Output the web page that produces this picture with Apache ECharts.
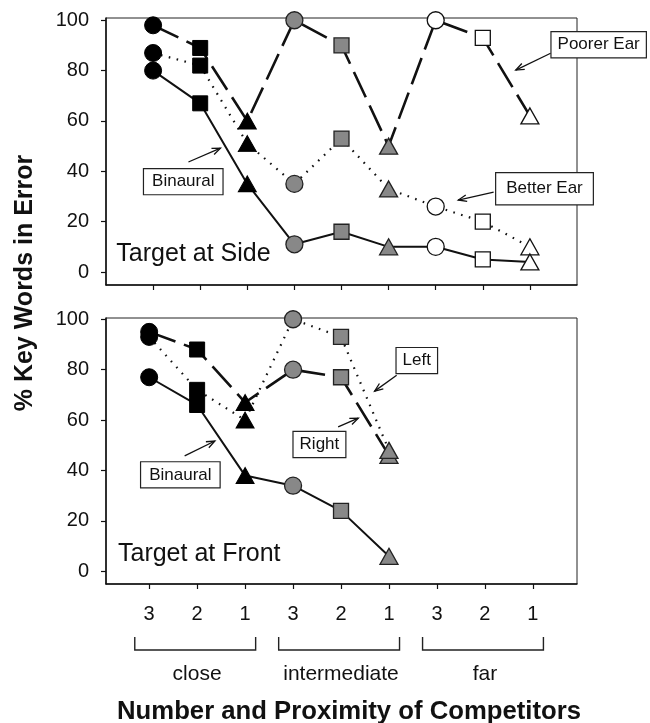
<!DOCTYPE html>
<html>
<head>
<meta charset="utf-8">
<script src="https://cdn.jsdelivr.net/npm/echarts@6/dist/echarts.min.js"></script>
<style>
  html, body { margin: 0; padding: 0; background: #fff; }
  #chart { width: 650px; height: 723px; }
</style>
</head>
<body>
<div id="chart"></div>
<script>
// ---- data ----
const tickLabels = ['3', '2', '1', '3', '2', '1', '3', '2', '1'];
const proximityGroups = ['close', 'intermediate', 'far'];
const yTicks = [0, 20, 40, 60, 80, 100];

// Target at Side (% key words in error)
const sidePoorerEar = [98, 89, 60, 100, 90, 50, 100, 93, 62];
const sideBetterEar = [87, 82, 51, 35, 53, 33, 26, 20, 10];
const sideBinaural  = [80, 67, 35, 11, 16, 10, 10, 5, 4];

// Target at Front (% key words in error); no far conditions
const frontRight    = [95, 88, 67, 80, 77, 46];
const frontLeft     = [93, 72, 60, 100, 93, 48];
const frontBinaural = [77, 66, 38, 34, 24, 6];

// ---- styling ----
const FONT = '"Liberation Sans", Arial, Helvetica, sans-serif';
const INK = '#111';
const shapeByCount = ['circle', 'rect', 'triangle'];
const sizeByShape = { circle: 17, rect: 15, triangle: [18, 16] };
const fillByGroup = [
  { color: '#000', borderColor: '#000', borderWidth: 1 },
  { color: '#888', borderColor: '#222', borderWidth: 1.3 },
  { color: '#fff', borderColor: '#111', borderWidth: 1.3 }
];

function points(values) {
  return values.map((v, i) => {
    const shape = shapeByCount[i % 3];
    return {
      value: [i, v],
      symbol: shape,
      symbolSize: sizeByShape[shape],
      itemStyle: fillByGroup[Math.floor(i / 3)]
    };
  });
}

const solid = { color: INK, width: 2, type: 'solid' };
const dotted = { color: INK, width: 2.2, type: [1.6, 6.5] };
const dashed = { color: INK, width: 2.6, type: [28, 9] };

function lineSeries(name, values, lineStyle, idx) {
  return {
    name, type: 'line', xAxisIndex: idx, yAxisIndex: idx,
    data: points(values), lineStyle, showSymbol: true,
    symbolKeepAspect: false, animation: false, z: 3
  };
}

const xIdx = tickLabels.map((_, i) => i);

function xAxisDef(gridIndex, min, max, labels) {
  return {
    type: 'value', gridIndex, min, max, position: 'bottom',
    axisLine: { show: true, onZero: false, lineStyle: { color: INK, width: 1.5 } },
    axisTick: { show: true, customValues: xIdx, length: 5, lineStyle: { color: INK, width: 1.2 } },
    axisLabel: labels ? {
      show: true, customValues: xIdx, margin: 20,
      formatter: v => tickLabels[Math.round(v)],
      fontFamily: FONT, fontSize: 20, color: INK
    } : { show: false },
    splitLine: { show: false }
  };
}

function yAxisDef(gridIndex, min, max) {
  return {
    type: 'value', gridIndex, min, max, position: 'left',
    axisLine: { show: true, onZero: false, lineStyle: { color: INK, width: 1.5 } },
    axisTick: { show: true, customValues: yTicks, length: 5, lineStyle: { color: INK, width: 1.2 } },
    axisLabel: {
      show: true, customValues: yTicks, margin: 17,
      fontFamily: FONT, fontSize: 20, color: INK
    },
    splitLine: { show: false }
  };
}

const chart = echarts.init(document.getElementById('chart'), null, { renderer: 'canvas' });

chart.setOption({
  animation: false,
  backgroundColor: '#fff',
  grid: [
    { left: 106, top: 18, width: 471, height: 267, show: true, borderColor: '#222', borderWidth: 1, backgroundColor: 'transparent' },
    { left: 106, top: 318, width: 471, height: 266, show: true, borderColor: '#222', borderWidth: 1, backgroundColor: 'transparent' }
  ],
  xAxis: [xAxisDef(0, -1, 9, false), xAxisDef(1, -0.9, 8.92, true)],
  yAxis: [yAxisDef(0, -5.16, 100.9), yAxisDef(1, -5, 100.5)],
  series: [
    lineSeries('Poorer Ear', sidePoorerEar, dashed, 0),
    lineSeries('Better Ear', sideBetterEar, dotted, 0),
    lineSeries('Binaural', sideBinaural, solid, 0),
    lineSeries('Right', frontRight, dashed, 1),
    lineSeries('Left', frontLeft, dotted, 1),
    lineSeries('Binaural', frontBinaural, solid, 1)
  ]
});

// ---- annotations placed in data coordinates of each panel ----
const sideNotes = [
  { text: 'Binaural', at: [0.64, 35.9], pad: [4, 8], from: [0.75, 43.7], to: [1.43, 49.2] },
  { text: 'Better Ear', at: [8.31, 33.1], pad: [7, 10], from: [7.23, 31.7], to: [6.48, 28.6] },
  { text: 'Poorer Ear', at: [9.46, 90.3], pad: [4, 6], from: [8.44, 86.9], to: [7.70, 80.2] }
];
const frontNotes = [
  { text: 'Binaural', at: [0.65, 38.3], pad: [4, 8], from: [0.74, 45.8], to: [1.37, 51.7] },
  { text: 'Right', at: [3.55, 50.3], pad: [4, 6], from: [3.94, 57.3], to: [4.36, 60.8] },
  { text: 'Left', at: [5.58, 83.6], pad: [4, 6], from: [5.16, 77.8], to: [4.70, 71.5] }
];

function px(gridIndex, p) { return chart.convertToPixel({ gridIndex }, p); }

function arrow(a, b) {
  const ang = Math.atan2(b[1] - a[1], b[0] - a[0]);
  const L = 9, spread = 0.38;
  const h1 = [b[0] - L * Math.cos(ang - spread), b[1] - L * Math.sin(ang - spread)];
  const h2 = [b[0] - L * Math.cos(ang + spread), b[1] - L * Math.sin(ang + spread)];
  const st = { stroke: INK, lineWidth: 1.3 };
  return [
    { type: 'line', shape: { x1: a[0], y1: a[1], x2: b[0], y2: b[1] }, style: st, z: 10 },
    { type: 'polyline', shape: { points: [h1, b, h2] }, style: Object.assign({ fill: null }, st), z: 10 }
  ];
}

function noteGraphics(gridIndex, notes) {
  const out = [];
  notes.forEach(n => {
    const c = px(gridIndex, n.at);
    out.push({
      type: 'text', x: c[0], y: c[1], z: 11,
      style: {
        text: n.text, font: '17px ' + FONT, fill: INK,
        align: 'center', verticalAlign: 'middle',
        backgroundColor: '#fff', borderColor: '#222', borderWidth: 1.2,
        padding: n.pad
      }
    });
    out.push(...arrow(px(gridIndex, n.from), px(gridIndex, n.to)));
  });
  return out;
}

function panelLabel(gridIndex, text, at) {
  const p = px(gridIndex, at);
  return {
    type: 'text', x: p[0], y: p[1], z: 9,
    style: { text, font: '25px ' + FONT, fill: INK, align: 'left', verticalAlign: 'middle' }
  };
}

function groupBrackets() {
  const out = [];
  const top = 637, bottom = 650;
  proximityGroups.forEach((g, k) => {
    const x1 = px(1, [3 * k - 0.3, 0])[0];
    const x2 = px(1, [3 * k + 2.22, 0])[0];
    out.push({
      type: 'polyline', z: 5,
      shape: { points: [[x1, top], [x1, bottom], [x2, bottom], [x2, top]] },
      style: { stroke: '#222', lineWidth: 1.4, fill: null }
    });
    const cx = px(1, [3 * k + 1, 0])[0];
    out.push({
      type: 'text', x: cx, y: 674, z: 5,
      style: { text: g, font: '21px ' + FONT, fill: INK, align: 'center', verticalAlign: 'middle' }
    });
  });
  return out;
}

const graphics = [
  ...noteGraphics(0, sideNotes),
  ...noteGraphics(1, frontNotes),
  panelLabel(0, 'Target at Side', [-0.78, 7.1]),
  panelLabel(1, 'Target at Front', [-0.65, 7.0]),
  ...groupBrackets(),
  {
    type: 'text', x: 349, y: 712, z: 5,
    style: { text: 'Number and Proximity of Competitors', font: 'bold 25.7px ' + FONT, fill: INK, align: 'center', verticalAlign: 'middle' }
  },
  {
    type: 'text', x: 25, y: 283, rotation: Math.PI / 2, z: 5,
    style: { text: '% Key Words in Error', font: 'bold 25px ' + FONT, fill: INK, align: 'center', verticalAlign: 'middle' }
  }
];

chart.setOption({ graphic: graphics });
</script>
</body>
</html>
